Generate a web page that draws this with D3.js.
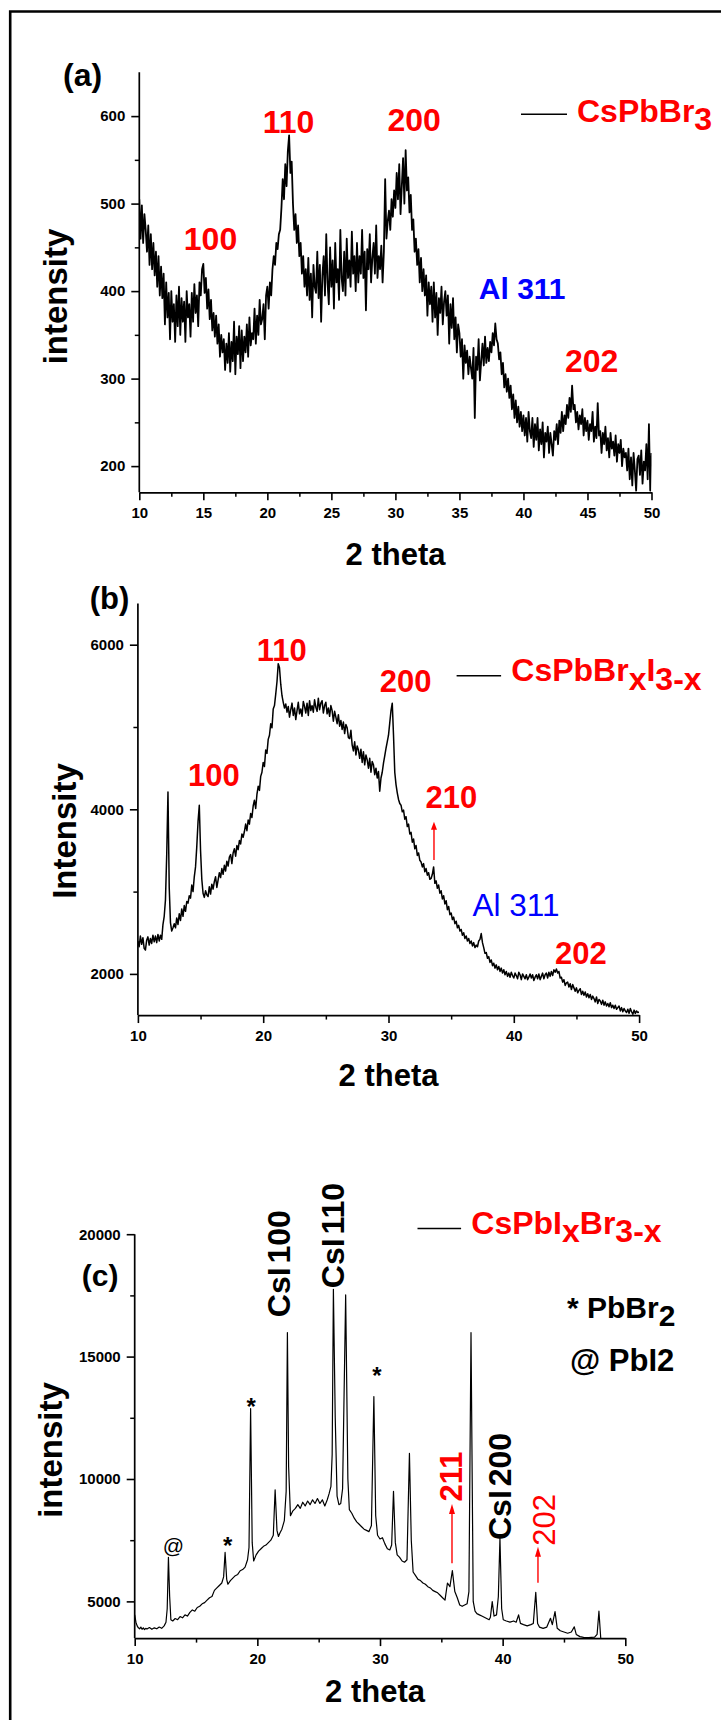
<!DOCTYPE html>
<html><head><meta charset="utf-8">
<script src="https://cdn.jsdelivr.net/npm/d3@7"></script>
<style>
body{margin:0;background:#fff}
svg{display:block}
text{font-family:"Liberation Sans", Arial, Helvetica, sans-serif}
</style>
</head><body>
<svg id="chart" width="721" height="1720"></svg>
<script>
// ---------------- DATA ----------------
// Panel (a) CsPbBr3 : 2theta from 10 to 50, step 0.1
const aStart = 10, aStep = 0.1;
const intensityA = [
505,460,498,455,488,470,445,475,430,465,
425,455,418,445,405,440,395,428,392,420,
362,410,370,398,345,400,365,385,342,395,
360,405,350,392,365,388,342,400,370,385,
348,398,365,408,375,395,360,410,395,425,
431,398,415,380,402,368,390,355,375,348,
372,340,362,325,350,330,345,310,340,318,
352,308,342,320,365,305,348,328,360,312,
355,320,348,330,362,325,370,338,352,345,
380,340,372,350,390,362,368,385,345,395,
405,380,410,395,425,440,430,455,448,465,
470,495,528,505,545,520,560,578,535,548,
500,470,488,455,475,440,455,420,440,405,
425,395,438,390,420,370,430,405,398,445,
392,430,365,418,440,395,465,410,385,450,
405,435,380,455,410,425,390,470,415,400,
445,395,460,415,435,405,468,420,440,400,
455,410,440,420,470,415,445,378,448,425,
465,410,438,455,420,475,415,440,425,452,
410,445,528,460,480,492,470,505,485,515,
495,535,505,545,488,520,552,500,561,515,
530,490,510,470,482,445,460,430,448,410,
438,400,425,395,418,372,410,385,405,365,
410,370,398,350,392,375,405,362,388,400,
372,395,340,385,358,392,345,370,330,362,
352,325,345,300,338,318,332,305,325,312,
300,335,255,325,310,345,298,320,340,315,
348,318,335,320,342,330,352,338,363,345,
340,322,330,305,318,290,305,285,300,278,
292,265,282,255,275,250,268,245,262,240,
258,235,255,228,262,240,232,255,222,248,
230,255,218,242,225,250,210,238,228,245,
215,238,225,212,240,230,248,225,252,238,
262,240,258,248,270,255,278,262,292,265,
270,250,262,242,258,248,265,235,255,240,
252,230,248,240,262,228,245,232,272,235,
240,215,238,225,245,218,232,210,238,220,
228,212,235,205,225,215,230,200,220,210,
215,195,220,185,210,178,215,195,172,208,
212,190,218,180,205,195,225,185,248,172,
215];

// Panel (b) CsPbBrxI3-x : 2theta from 10 to 50, step 0.1
const bStart = 10, bStep = 0.1;
const intensityB = [
2400,2330,2460,2360,2440,2310,2290,2410,2450,2350,
2430,2370,2470,2390,2460,2380,2480,2400,2470,2420,
2600,2700,2900,3450,4210,3050,2620,2520,2560,2610,
2560,2680,2600,2730,2650,2790,2700,2830,2760,2880,
2860,2950,2920,3080,3000,3180,3300,3550,3850,4050,
3500,3150,2980,2930,3010,2960,2940,3060,2970,3090,
3030,3120,3180,3050,3140,3230,3170,3280,3210,3320,
3250,3370,3310,3420,3450,3340,3470,3520,3430,3560,
3510,3620,3580,3700,3660,3730,3820,3740,3870,3820,
3950,3900,4040,4110,4010,4180,4280,4230,4400,4450,
4570,4520,4720,4680,4850,4900,5040,4990,5220,5260,
5400,5550,5770,5720,5520,5380,5300,5230,5280,5180,
5250,5120,5210,5290,5140,5230,5090,5200,5300,5160,
5220,5130,5310,5250,5170,5290,5140,5320,5200,5260,
5180,5330,5240,5190,5350,5210,5290,5320,5170,5260,
5300,5160,5230,5130,5260,5200,5070,5190,5120,5040,
5150,5010,5080,4970,5060,4920,5030,4990,4870,4860,
4960,4780,4710,4820,4660,4770,4720,4620,4730,4570,
4700,4540,4660,4600,4500,4620,4450,4580,4540,4420,
4500,4380,4460,4220,4380,4450,4560,4650,4740,4820,
4900,5050,5200,5290,4900,4450,4300,4200,4120,4070,
4050,3970,3990,3880,3910,3790,3820,3700,3720,3600,
3640,3520,3560,3440,3470,3380,3360,3300,3340,3240,
3280,3200,3230,3150,3160,3210,3300,3100,3130,3040,
3080,2980,3010,2910,2950,2850,2890,2780,2820,2720,
2740,2660,2690,2610,2640,2560,2590,2520,2540,2470,
2500,2430,2460,2400,2430,2370,2400,2340,2380,2320,
2350,2330,2400,2420,2490,2380,2320,2250,2260,2190,
2210,2140,2170,2100,2130,2070,2110,2050,2090,2030,
2070,2010,2050,1990,2030,1970,2010,1960,2020,1980,
1950,2010,1980,1940,2020,1990,1930,2000,1970,1940,
1990,1930,1960,2000,1950,1990,1920,1960,1990,1940,
2000,1930,1970,2010,1940,1990,2010,1950,2020,1970,
2030,1980,2050,2020,2060,2010,2030,1950,1960,1900,
1930,1860,1890,1900,1840,1880,1810,1870,1830,1790,
1830,1770,1800,1820,1750,1790,1740,1780,1720,1760,
1710,1750,1690,1730,1700,1660,1720,1640,1690,1670,
1630,1680,1620,1660,1610,1640,1600,1650,1590,1620,
1580,1620,1570,1590,1610,1550,1590,1540,1580,1550,
1530,1570,1520,1580,1540,1510,1560,1520,1550,1530,
1540];

// Panel (c) CsPbIxBr3-x : [2theta, intensity]
const patternC = [
[10.0,4450],[10.1,4150],[10.2,4000],[10.3,3920],[10.4,3880],[10.5,3950],[10.6,3860],[10.7,3920],[10.8,3850],[10.9,3900],
[11.0,3870],[11.2,3930],[11.4,3860],[11.6,3920],[11.8,3880],[12.0,3950],[12.2,3900],[12.4,4000],[12.55,4150],[12.65,4700],
[12.75,6800],[12.85,5200],[12.95,4250],[13.1,4200],[13.3,4300],[13.5,4250],[13.7,4380],[13.9,4330],[14.1,4450],[14.3,4400],
[14.5,4550],[14.7,4650],[14.9,4600],[15.1,4750],[15.3,4800],[15.5,4900],[15.7,4950],[15.9,5050],[16.1,5150],[16.3,5200],
[16.5,5450],[16.7,5550],[16.9,5650],[17.1,5750],[17.25,6000],[17.37,7000],[17.5,5900],[17.6,5700],[17.8,5850],[18.0,5950],
[18.2,6050],[18.4,6100],[18.6,6250],[18.8,6300],[19.0,6400],[19.2,6700],[19.32,7200],[19.45,12880],[19.58,7400],[19.7,6650],
[19.9,6900],[20.1,7050],[20.3,7150],[20.5,7250],[20.7,7300],[20.9,7400],[21.1,7500],[21.3,7700],[21.45,9560],[21.6,7900],
[21.72,7650],[21.85,7800],[22.0,7950],[22.2,8300],[22.35,9500],[22.45,15980],[22.55,10500],[22.7,8500],[22.9,8700],[23.1,8800],
[23.3,8950],[23.5,8800],[23.7,9050],[23.9,8900],[24.1,9100],[24.3,8950],[24.5,9150],[24.7,9000],[24.9,9200],[25.1,9000],
[25.3,9150],[25.5,8900],[25.7,9150],[25.85,9400],[26.0,9700],[26.1,11000],[26.2,17750],[26.35,12500],[26.5,9300],[26.65,8950],
[26.8,9000],[26.95,9600],[27.2,17520],[27.38,10000],[27.5,8750],[27.7,8600],[27.9,8400],[28.1,8250],[28.3,8150],[28.5,8050],
[28.7,7950],[28.9,7900],[29.1,7850],[29.3,8100],[29.5,13370],[29.65,8500],[29.8,7700],[30.0,7550],[30.2,7600],[30.4,7350],
[30.6,7150],[30.8,7100],[30.95,7300],[31.1,9500],[31.25,7400],[31.4,6900],[31.6,6800],[31.8,6650],[32.0,6600],[32.2,6700],
[32.4,11050],[32.55,7500],[32.7,6200],[32.9,6050],[33.1,5900],[33.3,5850],[33.5,5750],[33.7,5700],[33.9,5600],[34.1,5550],
[34.3,5450],[34.5,5400],[34.7,5350],[34.9,5250],[35.1,5150],[35.3,5050],[35.5,5750],[35.7,5600],[35.9,6260],[36.1,5400],
[36.3,5150],[36.5,4850],[36.7,4800],[36.9,4850],[37.1,4900],[37.25,5400],[37.42,15980],[37.6,5000],[37.75,4600],[37.9,4500],
[38.1,4450],[38.3,4400],[38.5,4350],[38.7,4300],[38.9,4250],[39.0,4350],[39.15,4990],[39.3,4400],[39.5,4450],[39.65,5200],
[39.78,7580],[39.92,4700],[40.05,4250],[40.3,4200],[40.6,4150],[40.9,4200],[41.1,4150],[41.3,4450],[41.45,4100],[41.7,4050],
[42.0,4000],[42.3,4050],[42.5,4100],[42.7,5370],[42.85,4100],[43.0,3950],[43.3,3900],[43.6,3950],[43.9,4310],[44.05,4050],
[44.27,4580],[44.45,3900],[44.7,3800],[45.0,3750],[45.3,3700],[45.6,3750],[45.84,3960],[46.0,3650],[46.3,3560],[46.6,3530],
[47.0,3520],[47.5,3540],[47.7,3650],[47.85,4600],[48.0,3480],[48.2,3300],[49.0,3200],[50.0,3100]
];

// Axis ticks
const xMajorA = [10,15,20,25,30,35,40,45,50];
const xMinorA = [12.5,17.5,22.5,27.5,32.5,37.5,42.5,47.5];
const yMajorA = [200,300,400,500,600];
const yMinorA = [250,350,450,550];
const xMajorBC = [10,20,30,40,50];
const xMinorBC = [15,25,35,45];
const yMajorB = [2000,4000,6000];
const yMinorB = [3000,5000];
const yMajorC = [5000,10000,15000,20000];
const yMinorC = [7500,12500,17500];

// Peak annotations: [text, 2theta, intensity]
const peaksA = [["100",15.56,447],["110",21.66,581],["200",31.46,583],["202",45.33,307]];
const alA = ["Al 311",39.9,391];
const peaksB = [["100",16.06,4283],["110",21.48,5802],["200",31.37,5428],["210",35.01,4016],["202",45.36,2120]];
const alB = ["Al 311",40.18,2707];
const arrowB = [33.63,3384,3849];
// rotated labels in (c): [text, 2theta(baseline), intensity(center), color, weight]
const labelsC = [["CsI 100",22.64,18795,"#000","bold"],["CsI 110",27.06,19947,"#000","bold"],
                 ["CsI 200",40.7,9694,"#000","bold"],["211",36.69,10098,"#ff0000","bold"],
                 ["202",44.27,8325,"#ff0000","normal"]];
const arrowsC = [[35.87,6556,8979],[42.88,5764,7234]];
const starsC = [["*",17.58,6920],["*",19.49,12614],["*",29.75,13860]];
const atC = ["@",13.15,7018];

// ---------------- DRAW ----------------
const svg = d3.select("#chart");
const RED = "#ff0000", BLUE = "#0000ff";

// outer frame (top and left edges visible)
svg.append("path").attr("d","M10.2,1720 V11.5 H721").attr("fill","none")
   .attr("stroke","#000").attr("stroke-width",2.6);

const panels = [
 {id:"a", left:139.3, right:651.5, top:72.35, bottom:492.35, yDomain:[170,650],
  xMajor:xMajorA, xMinor:xMinorA, yMajor:yMajorA, yMinor:yMinorA,
  points:intensityA.map((v,i)=>[aStart+i*aStep, v]), lw:1.8,
  xTitle:{x:395.5,y:564.5}, yTitle:{x:66.8,y:296.5,t:"intensity"}, tag:{x:63,y:85.5,t:"(a)",fs:32}},
 {id:"b", left:137.9, right:639.1, top:603.55, bottom:1015.05, yDomain:[1500,6500],
  xMajor:xMajorBC, xMinor:xMinorBC, yMajor:yMajorB, yMinor:yMinorB,
  points:intensityB.map((v,i)=>[bStart+i*bStep, v]), lw:1.5,
  xTitle:{x:388.5,y:1086.4}, yTitle:{x:75.8,y:831,t:"Intensity"}, tag:{x:89.7,y:609,t:"(b)",fs:31}},
 {id:"c", left:134.7, right:625.3, top:1234.2, bottom:1638.1, yDomain:[3500,20000],
  xMajor:xMajorBC, xMinor:xMinorBC, yMajor:yMajorC, yMinor:yMinorC,
  points:patternC, lw:1.2,
  xTitle:{x:375,y:1702}, yTitle:{x:62.2,y:1450,t:"intensity"}, tag:{x:81.8,y:1286,t:"(c)",fs:30}}
];

const scales = {};
panels.forEach(p => {
  const x = d3.scaleLinear().domain([10,50]).range([p.left, p.right]);
  const y = d3.scaleLinear().domain(p.yDomain).range([p.bottom, p.top]);
  scales[p.id] = {x, y};
  const g = svg.append("g");

  g.append("clipPath").attr("id","clip"+p.id).append("rect")
    .attr("x",p.left).attr("y",p.top).attr("width",p.right-p.left).attr("height",p.bottom-p.top);

  g.append("path").datum(p.points)
    .attr("clip-path",`url(#clip${p.id})`)
    .attr("d", d3.line().x(d=>x(d[0])).y(d=>y(d[1])))
    .attr("fill","none").attr("stroke","#000").attr("stroke-width",p.lw)
    .attr("stroke-linejoin","round");

  g.append("g").attr("transform",`translate(0,${p.bottom})`)
    .call(d3.axisBottom(x).tickValues(p.xMinor).tickSize(4.5).tickFormat(""))
    .call(s=>{s.select(".domain").remove(); s.selectAll("line").attr("stroke-width",1.5);});
  g.append("g").attr("transform",`translate(${p.left},0)`)
    .call(d3.axisLeft(y).tickValues(p.yMinor).tickSize(4.5).tickFormat(""))
    .call(s=>{s.select(".domain").remove(); s.selectAll("line").attr("stroke-width",1.5);});

  const ax = g.append("g").attr("transform",`translate(0,${p.bottom})`)
    .call(d3.axisBottom(x).tickValues(p.xMajor).tickSize(8).tickSizeOuter(0).tickPadding(7).tickFormat(d3.format("d")));
  const ay = g.append("g").attr("transform",`translate(${p.left},0)`)
    .call(d3.axisLeft(y).tickValues(p.yMajor).tickSize(8).tickSizeOuter(0).tickPadding(6).tickFormat(d3.format("d")));
  [ax, ay].forEach(a => {
    a.attr("font-family",null).attr("font-size",null);
    a.select(".domain").attr("stroke-width",1.7);
    a.selectAll(".tick line").attr("stroke-width",1.6);
    a.selectAll(".tick text").attr("font-size",15).attr("font-weight","bold").attr("fill","#000");
  });
  ay.select(".domain").attr("d",`M0,${p.top}V${p.bottom}`);

  g.append("text").attr("x",p.xTitle.x).attr("y",p.xTitle.y).attr("text-anchor","middle")
    .attr("font-size",31).attr("font-weight","bold").text("2 theta");
  g.append("text").attr("transform",`translate(${p.yTitle.x},${p.yTitle.y}) rotate(-90)`)
    .attr("text-anchor","middle").attr("font-size",33).attr("font-weight","bold").text(p.yTitle.t);
  g.append("text").attr("x",p.tag.x).attr("y",p.tag.y).attr("font-size",p.tag.fs)
    .attr("font-weight","bold").text(p.tag.t);
});

// ---- panel (a) annotations
{
  const {x,y} = scales.a;
  svg.selectAll(null).data(peaksA).enter().append("text")
    .attr("x",d=>x(d[1])).attr("y",d=>y(d[2])).attr("text-anchor","middle")
    .attr("font-size",32).attr("font-weight","bold").attr("fill",RED).text(d=>d[0]);
  svg.append("text").attr("x",x(alA[1])).attr("y",y(alA[2])).attr("text-anchor","middle")
    .attr("font-size",30).attr("font-weight","bold").attr("fill",BLUE).text(alA[0]);
  svg.append("line").attr("x1",521).attr("x2",567).attr("y1",114.3).attr("y2",114.3)
    .attr("stroke","#000").attr("stroke-width",1.4);
  const t = svg.append("text").attr("x",577).attr("y",121.5).attr("font-size",32)
    .attr("font-weight","bold").attr("fill",RED);
  t.append("tspan").text("CsPbBr");
  t.append("tspan").attr("dy",8.3).text("3");
}

// ---- panel (b) annotations
{
  const {x,y} = scales.b;
  svg.selectAll(null).data(peaksB).enter().append("text")
    .attr("x",d=>x(d[1])).attr("y",d=>y(d[2])).attr("text-anchor","middle")
    .attr("font-size",31).attr("font-weight","bold").attr("fill",RED).text(d=>d[0]);
  svg.append("text").attr("x",x(alB[1])).attr("y",y(alB[2])).attr("text-anchor","middle")
    .attr("font-size",31.5).attr("fill",BLUE).text(alB[0]);
  const ax = x(arrowB[0]), yb = y(arrowB[1]), yt = y(arrowB[2]);
  svg.append("line").attr("x1",ax).attr("x2",ax).attr("y1",yb).attr("y2",yt+7)
    .attr("stroke",RED).attr("stroke-width",1.4);
  svg.append("path").attr("d",`M${ax},${yt} L${ax-3},${yt+8} L${ax+3},${yt+8} Z`).attr("fill",RED);
  svg.append("line").attr("x1",456.6).attr("x2",501.1).attr("y1",675.7).attr("y2",675.7)
    .attr("stroke","#000").attr("stroke-width",1.4);
  const t = svg.append("text").attr("x",511.3).attr("y",681).attr("font-size",32)
    .attr("font-weight","bold").attr("fill",RED);
  t.append("tspan").text("CsPbBr");
  t.append("tspan").attr("dy",9).text("x");
  t.append("tspan").attr("dy",-9).text("I");
  t.append("tspan").attr("dy",9).text("3-x");
}

// ---- panel (c) annotations
{
  const {x,y} = scales.c;
  svg.selectAll(null).data(labelsC).enter().append("text")
    .attr("transform",d=>`translate(${x(d[1])},${y(d[2])}) rotate(-90)`)
    .attr("text-anchor","middle").attr("font-size",d=>d[0].startsWith("CsI")?32:31)
    .attr("word-spacing",d=>d[0].startsWith("CsI")?"-5px":null)
    .attr("font-weight",d=>d[4]).attr("fill",d=>d[3]).text(d=>d[0]);
  arrowsC.forEach(a => {
    const ax = x(a[0]), yb = y(a[1]), yt = y(a[2]);
    svg.append("line").attr("x1",ax).attr("x2",ax).attr("y1",yb).attr("y2",yt+8)
      .attr("stroke",RED).attr("stroke-width",1.4);
    svg.append("path").attr("d",`M${ax},${yt} L${ax-3},${yt+10} L${ax+3},${yt+10} Z`).attr("fill",RED);
  });
  svg.selectAll(null).data(starsC).enter().append("text")
    .attr("x",d=>x(d[1])).attr("y",d=>y(d[2])).attr("text-anchor","middle")
    .attr("font-size",24).attr("font-weight","bold").text(d=>d[0]);
  svg.append("text").attr("x",x(atC[1])).attr("y",y(atC[2])+1).attr("text-anchor","middle")
    .attr("font-size",21).text(atC[0]);
  svg.append("line").attr("x1",417.5).attr("x2",461.1).attr("y1",1228.5).attr("y2",1228.5)
    .attr("stroke","#000").attr("stroke-width",1.4);
  const t = svg.append("text").attr("x",471.3).attr("y",1234.4).attr("font-size",32)
    .attr("font-weight","bold").attr("fill",RED);
  t.append("tspan").text("CsPbI");
  t.append("tspan").attr("dy",8).text("x");
  t.append("tspan").attr("dy",-8).text("Br");
  t.append("tspan").attr("dy",8).text("3-x");
  const s = svg.append("text").attr("x",567).attr("y",1317.5).attr("font-size",30).attr("font-weight","bold");
  s.append("tspan").text("* PbBr");
  s.append("tspan").attr("dy",8).text("2");
  svg.append("text").attr("x",570).attr("y",1371).attr("font-size",31).attr("font-weight","bold").text("@ PbI2");
}
</script>
</body></html>
